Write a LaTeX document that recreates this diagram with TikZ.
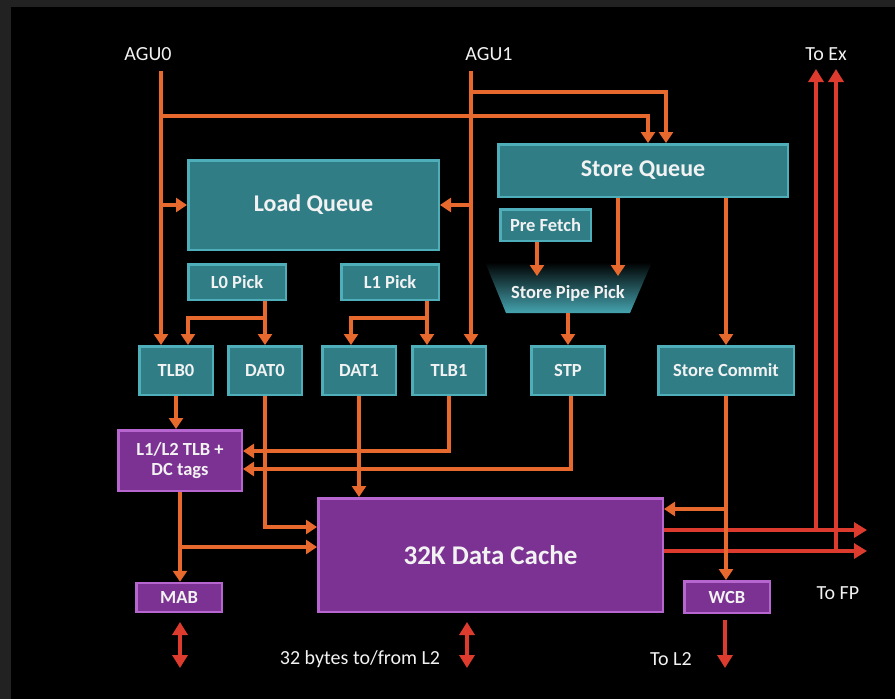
\documentclass[tikz,border=0pt]{standalone}
\usepackage{fontspec}
\setmainfont{Carlito}
\usetikzlibrary{arrows.meta,calc}
\definecolor{bgframe}{HTML}{222222}
\definecolor{oarrc}{HTML}{E8692E}
\definecolor{rarrc}{HTML}{DE3B2F}
\definecolor{tealfill}{HTML}{307D86}
\definecolor{tealedge}{HTML}{4EAEB9}
\definecolor{tealbot}{HTML}{45A4AF}
\definecolor{purpfill}{HTML}{7B3292}
\definecolor{purpedge}{HTML}{B765CF}
\definecolor{txt}{HTML}{F2F2F2}
\begin{document}
\begin{tikzpicture}[x=1pt,y=-1pt,
  tbox/.style={draw=tealedge, fill=tealfill, line width=2.5pt, text=txt,
    font=\bfseries\fontsize{18.5}{20}\selectfont, inner sep=0pt, align=center},
  pbox/.style={draw=purpedge, fill=purpfill, line width=2.5pt, text=txt,
    font=\bfseries\fontsize{18.5}{20}\selectfont, inner sep=0pt, align=center},
  bigtxt/.style={font=\bfseries\fontsize{24}{28}\selectfont},
  oarr/.style={draw=oarrc, line width=4pt, -{Triangle[width=14pt,length=11pt]}},
  rarr/.style={draw=rarrc, line width=4.5pt, -{Triangle[width=15pt,length=13pt]}},
  rdbl/.style={draw=rarrc, line width=4.5pt, {Triangle[width=15pt,length=13pt]}-{Triangle[width=15pt,length=13pt]}},
  lbl/.style={text=txt, font=\fontsize{20}{24}\selectfont, inner sep=0pt}
]
\fill[bgframe] (0,0) rectangle (895,699);
\fill[black] (11,7) rectangle (895,699);
\useasboundingbox (0,0) rectangle (895,699);

% labels
\node[lbl] (agu0) at (148,54) {AGU0};
\node[lbl] (agu1) at (489,54) {AGU1};
\node[lbl] (toex) at (826,54) {To Ex};
\node[lbl] (tofp) at (838,593) {To FP};
\node[lbl] (tol2) at (671,659) {To L2};
\node[lbl] (bytes) at (360,659) {32 bytes to/from L2};

% teal boxes
\node[tbox, bigtxt, minimum width=250.5pt, minimum height=89.5pt] (lq) at (313.5,205) {Load Queue};
\node[tbox, bigtxt, minimum width=289.5pt, minimum height=52.5pt] (sq) at (643,170.5) {Store Queue};
\node[tbox, minimum width=90.5pt, minimum height=31.5pt] (pf) at (545.5,225) {Pre Fetch};
\node[tbox, minimum width=97.5pt, minimum height=35.5pt] (l0) at (237,282) {L0 Pick};
\node[tbox, minimum width=97.5pt, minimum height=35.5pt] (l1) at (390,282) {L1 Pick};
\node[tbox, minimum width=73.5pt, minimum height=48.5pt] (tlb0) at (176,370.5) {TLB0};
\node[tbox, minimum width=73.5pt, minimum height=48.5pt] (dat0) at (265,370.5) {DAT0};
\node[tbox, minimum width=73.5pt, minimum height=48.5pt] (dat1) at (359,370.5) {DAT1};
\node[tbox, minimum width=73.5pt, minimum height=48.5pt] (tlb1) at (449,370.5) {TLB1};
\node[tbox, minimum width=73.5pt, minimum height=48.5pt] (stp) at (568,370.5) {STP};
\node[tbox, minimum width=135.5pt, minimum height=48.5pt] (sc) at (726,370.5) {Store Commit};

% store pipe pick trapezoid
\shade[top color=black, bottom color=tealbot] (485,262) -- (652,262) -- (630,313) -- (506,313) -- cycle;
\node[text=txt, font=\bfseries\fontsize{18.5}{20}\selectfont, inner sep=0pt] (spp) at (568,293) {Store Pipe Pick};
\coordinate (sppbot) at (568,313);
\coordinate (sppin1) at (537,276);
\coordinate (sppin2) at (618,276);

% purple boxes
\node[pbox, minimum width=123.5pt, minimum height=60.5pt] (l12) at (180,460.5) {L1/L2 TLB +\\DC tags};
\node[pbox, font=\bfseries\fontsize{27}{30}\selectfont, minimum width=344.5pt, minimum height=113.5pt] (dc) at (490.5,555) {32K Data Cache};
\node[pbox, minimum width=85.5pt, minimum height=29pt] (mab) at (179,597.5) {MAB};
\node[pbox, minimum width=85.5pt, minimum height=31.5pt] (wcb) at (727,597) {WCB};

% red outputs (drawn first so orange crosses over)
\coordinate (ex1) at (816,69);
\coordinate (ex2) at (836,69);
\coordinate (fp1) at (867,530);
\coordinate (fp2) at (867,551);
\draw[rarr] (dc.east |- fp1) -- (fp1);
\draw[rarr] (dc.east |- fp2) -- (fp2);
\draw[rarr] (ex1 |- fp1) -- (ex1);
\draw[rarr] (ex2 |- fp2) -- (ex2);

\coordinate (m1) at (180,622);
\coordinate (m2) at (180,668);
\draw[rdbl] (m1) -- (m2);
\coordinate (d1) at (467,622);
\coordinate (d2) at (467,668);
\draw[rdbl] (d1) -- (d2);
\coordinate (w1) at (725,620);
\coordinate (w2) at (725,668);
\draw[rarr] (w1) -- (w2);

% AGU0 connectors
\coordinate (a0) at (161,71);
\coordinate (a0h) at (161,116);
\coordinate (a0lq) at (161,205);
\draw[oarr] (a0) -- (a0 |- tlb0.north);
\draw[oarr] (a0h) -| ([xshift=5pt]sq.north);
\draw[oarr] (a0lq) -- (lq.west);

% AGU1 connectors
\coordinate (a1) at (471,71);
\coordinate (a1h) at (471,92);
\coordinate (a1lq) at (471,205);
\draw[oarr] (a1) -- (a1 |- tlb1.north);
\draw[oarr] (a1h) -| ([xshift=23pt]sq.north);
\draw[oarr] (a1lq) -- (lq.east);

% L0 / L1 pick
\coordinate (l0s) at (265,301);
\coordinate (l0j) at (265,318);
\draw[oarr] (l0s) -- (dat0.north);
\draw[oarr] (l0j) -| ([xshift=12pt]tlb0.north);
\coordinate (l1s) at (427,301);
\coordinate (l1j) at (427,318);
\draw[oarr] (l1s) -- (l1s |- tlb1.north);
\draw[oarr] (l1j) -| ([xshift=-8pt]dat1.north);

% store side
\draw[oarr] (pf.south -| sppin1) -- (sppin1);
\draw[oarr] (sq.south -| sppin2) -- (sppin2);
\draw[oarr] (sppbot) -- (stp.north);
\draw[oarr] (sc.north |- sq.south) -- (sc.north);

% to L1/L2 TLB
\draw[oarr] (tlb0.south) -- (tlb0.south |- l12.north);
\draw[oarr] (tlb1.south) |- ([yshift=9.5pt]l12.east);
\draw[oarr] ([xshift=3pt]stp.south) |- ([yshift=-8.5pt]l12.east);

% to data cache
\draw[oarr] (dat0.south) |- ([yshift=28pt]dc.west);
\draw[oarr] (dat1.south) -- (dat1.south |- dc.north);
\draw[oarr] (l12.south) -- (l12.south |- mab.north);
\coordinate (l12j) at (180,547);
\draw[oarr] (l12j) -- (l12j -| dc.west);
\draw[oarr] (sc.south) -- (sc.south |- wcb.north);
\coordinate (scj) at (726,509);
\draw[oarr] (scj) -- (scj -| dc.east);
\end{tikzpicture}
\end{document}
